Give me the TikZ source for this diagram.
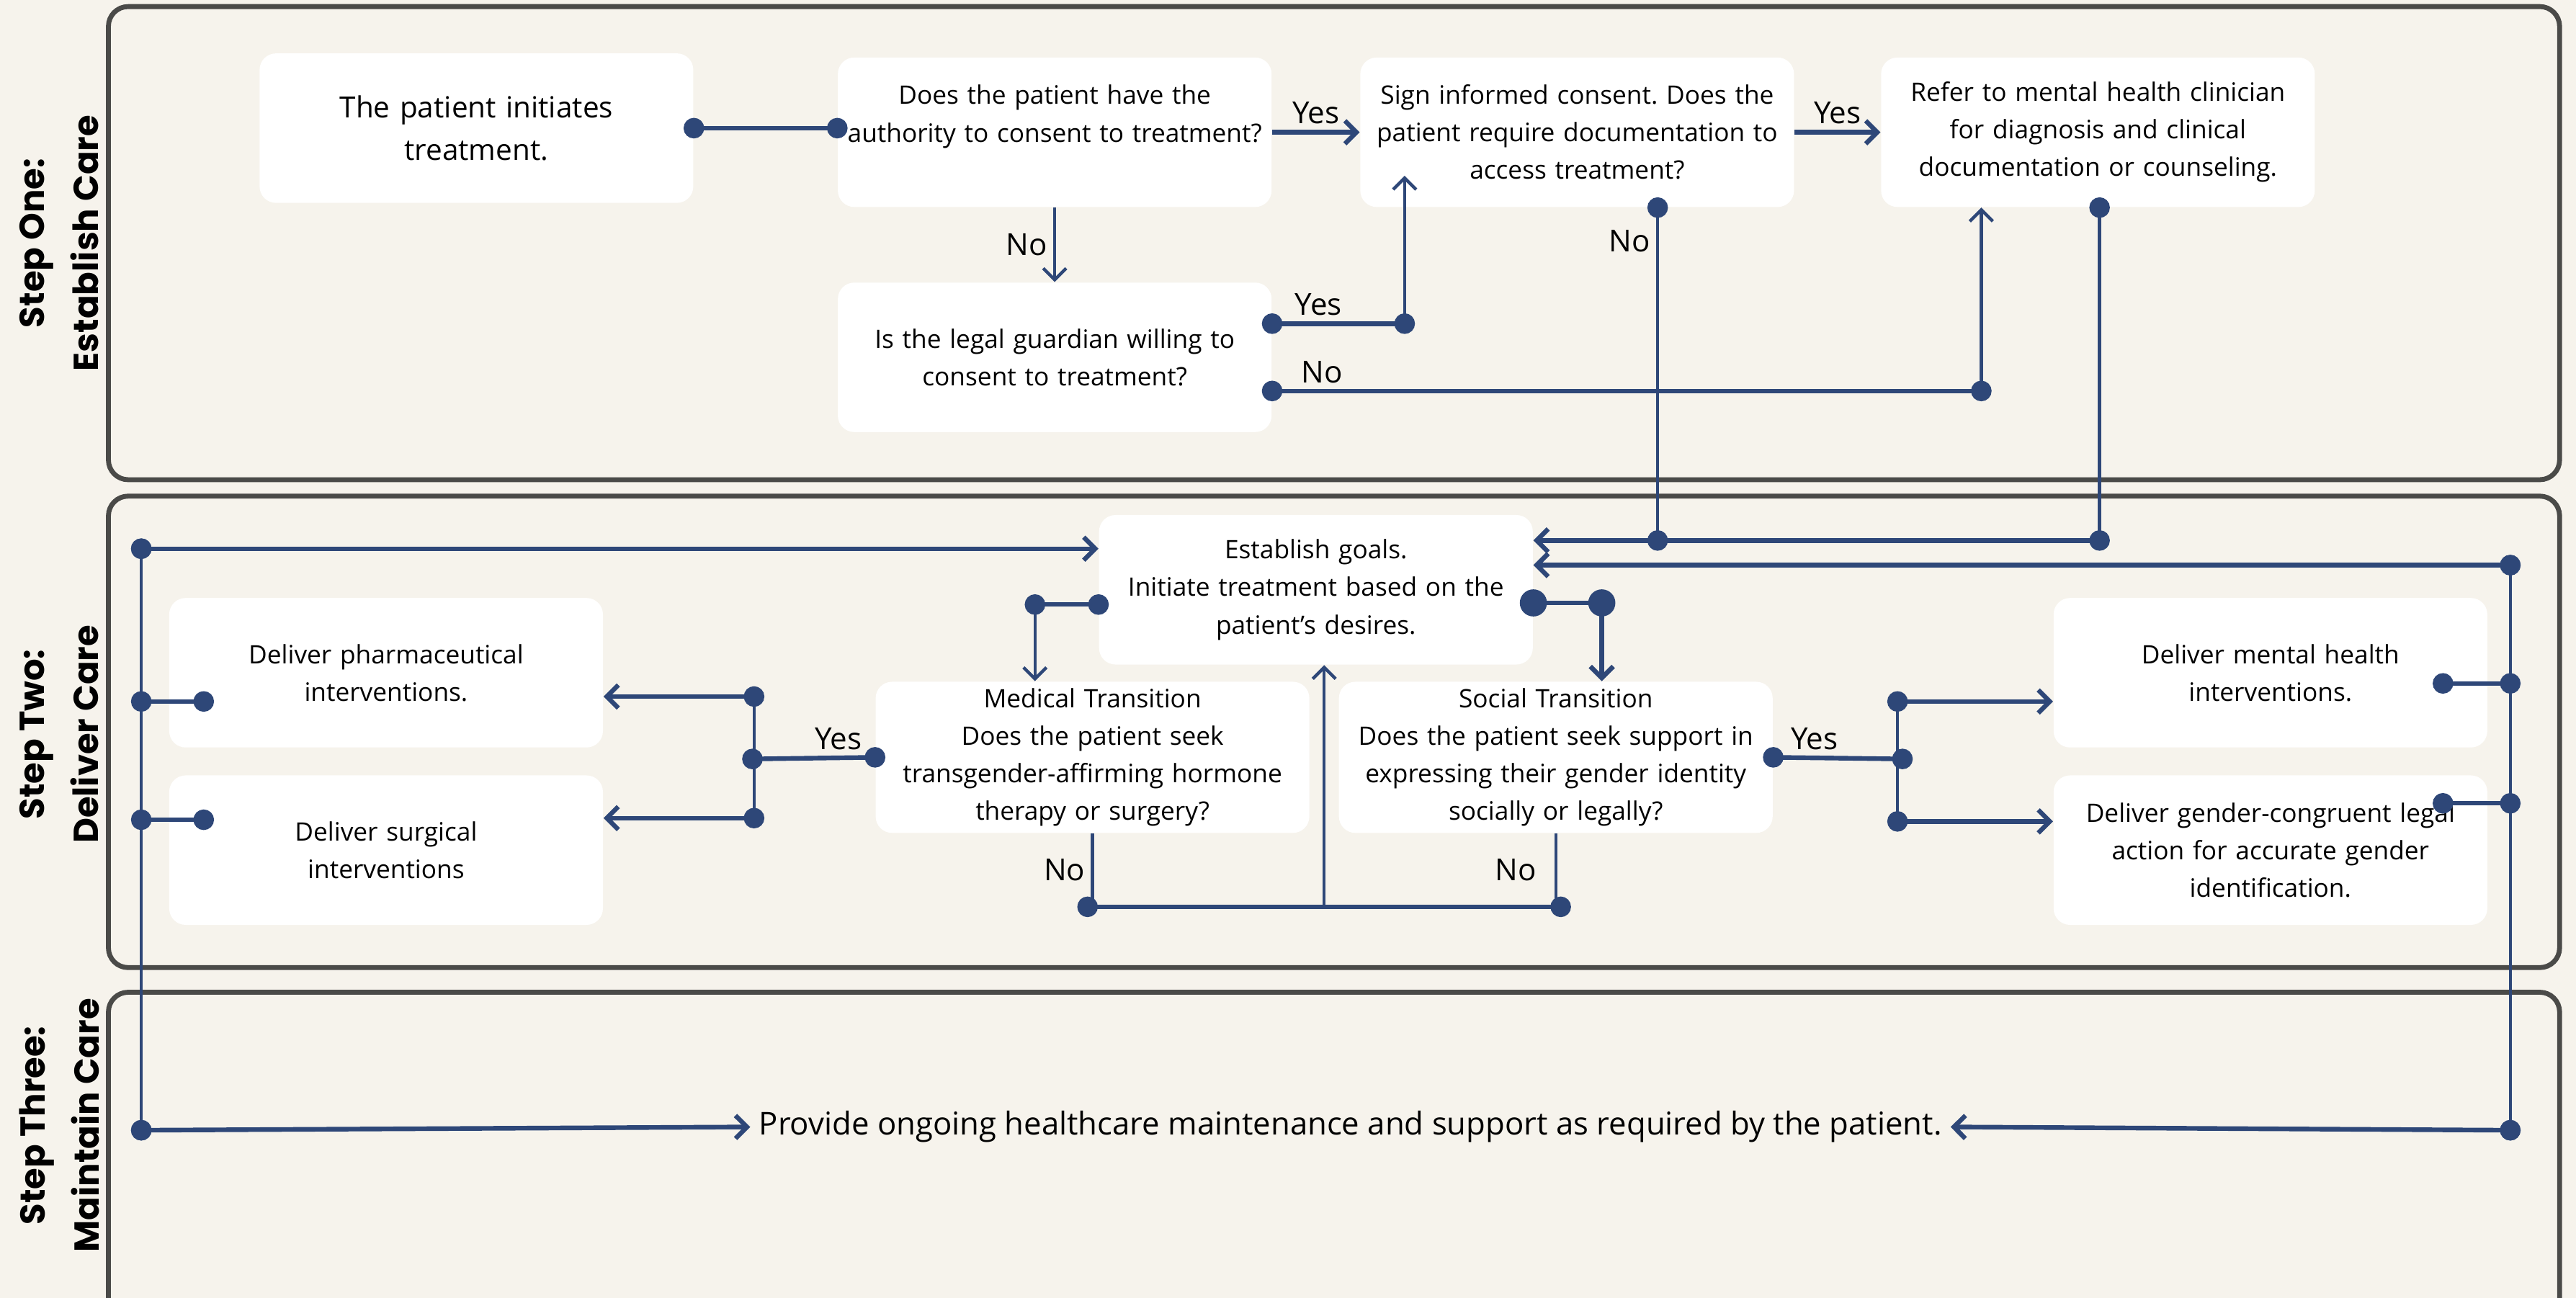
\documentclass[tikz,border=0pt]{standalone}
\usepackage{fontspec}
\setmainfont{Open Sans}
\newfontfamily\stepfont{Poppins}
\usetikzlibrary{arrows.meta}
\definecolor{navy}{HTML}{2E4778}
\definecolor{sfondo}{HTML}{F6F3EC}
\definecolor{bordo}{HTML}{4A4A48}
\frenchspacing

\begin{document}
\begin{tikzpicture}[x=0.2mm, y=-0.2mm,
    box/.style = {fill=white, rounded corners=2mm, minimum width=5.28cm, minimum height=1.82cm, text width=5.1cm, inner sep=0.8mm, align=center, font=\fontsize{8.8}{13}\selectfont},
    panel/.style = {draw=bordo, line width=1.7pt, rounded corners=2.4mm},
    steptitle/.style = {rotate=90, align=center, font=\stepfont\bfseries\fontsize{12}{18.7}\selectfont},
    lbl/.style = {font=\fontsize{10.5}{12}\selectfont, inner sep=2pt},
    link/.style = {draw=navy, line width=1.6pt},
    slim/.style = {draw=navy, line width=1.1pt},
    arr/.style = {-{Straight Barb[length=1.4mm, width=2.8mm]}},
    dd/.style = {{Circle[length=2.5mm]}-{Circle[length=2.5mm]}, shorten <=-1.25mm, shorten >=-1.25mm},
    da/.style = {{Circle[length=2.5mm]}-{Straight Barb[length=1.4mm, width=2.8mm]}, shorten <=-1.25mm},
    bigdd/.style = {{Circle[length=3.3mm]}-{Circle[length=3.3mm]}, shorten <=-1.65mm, shorten >=-1.65mm}]
    \useasboundingbox (0,0) rectangle (1568,790);
    \fill[sfondo] (0,0) rectangle (1568,790);

    % pannelli
    \draw[panel] (66,4) rectangle (1558,292);
    \draw[panel] (66,302) rectangle (1558,589);
    \draw[panel] (66,604) rectangle (1558,830);
    \node[steptitle] (t1) at (36,148) {Step One:\\Establish Care};
    \node[steptitle] (t2) at (36,447) {Step Two:\\Deliver Care};
    \node[steptitle] (t3) at (36,685) {Step Three:\\Maintain Care};

    % riquadri
    \node[box, font=\fontsize{10.1}{14.7}\selectfont] (0) at (290,78) {The patient initiates\\treatment.};
    \node[box] (1) at (642,80.5) {Does the patient have the\\authority to consent to treatment?\\\mbox{}};
    \node[box] (2) at (642,217.5) {Is the legal guardian willing to\\consent to treatment?};
    \node[box] (3) at (960,80.5) {Sign informed consent. Does the\\patient require documentation to\\access treatment?};
    \node[box] (4) at (1277,80.5) {Refer to mental health clinician\\for diagnosis and clinical\\documentation or counseling.};
    \node[box] (5) at (801,359) {Establish goals.\\Initiate treatment based on the\\patient's desires.};
    \node[box] (6) at (665,461) {Medical Transition\\Does the patient seek\\transgender-affirming hormone\\therapy or surgery?};
    \node[box] (7) at (947,461) {Social Transition\\Does the patient seek support in\\expressing their gender identity\\socially or legally?};
    \node[box] (8) at (235,409.5) {Deliver pharmaceutical\\interventions.};
    \node[box] (9) at (235,517.5) {Deliver surgical\\interventions};
    \node[box] (10) at (1382,409.5) {Deliver mental health\\interventions.};
    \node[box] (11) at (1382,517.5) {Deliver gender-congruent legal\\action for accurate gender\\identification.};
    \node[font=\fontsize{10.9}{13}\selectfont, inner sep=1mm] (12) at (822,686) {Provide ongoing healthcare maintenance and support as required by the patient.};

    % punti di snodo
    \coordinate (cy) at (855,197);
    \coordinate (dyes) at (855,107);
    \coordinate (cn) at (1206,238);
    \coordinate (dn) at (1009,329);
    \coordinate (en) at (1278,329);
    \coordinate (r1) at (1528,344);
    \coordinate (r2) at (1528,688);
    \coordinate (l1) at (86,334);
    \coordinate (l2) at (86,688);
    \coordinate (i1) at (124,427);
    \coordinate (j1) at (124,499);
    \coordinate (k1) at (1487,416);
    \coordinate (m1) at (1487,489);
    \coordinate (gy) at (458,462);
    \coordinate (gt) at (459,424);
    \coordinate (gb) at (459,498);
    \coordinate (hy) at (1158,462);
    \coordinate (ht) at (1155,427);
    \coordinate (hb) at (1155,500);
    \coordinate (fg) at (630,368);
    \coordinate (fh) at (975,367);
    \coordinate (gn) at (662,552);
    \coordinate (hn) at (950,552);
    \coordinate (fb) at (806,552);

    % collegamenti
    \draw[link, dd] (0.east) -- (0.east -| 1.west);
    \draw[link, arr] (1.east) -- (3.west) node[lbl, midway, above] {Yes};
    \draw[slim, arr] (1.south) -- (2.north) node[lbl, midway, left] {No};
    \draw[link, dd] (2.east |- cy) -- (cy) node[lbl, pos=0.35, above] {Yes};
    \draw[slim, arr] (cy) -- (dyes);
    \draw[link, dd] (2.east |- cn) -- (cn) node[lbl, pos=0.07, above] {No};
    \draw[slim, arr] (cn) -- (cn |- 4.south);
    \draw[link, arr] (3.east) -- (4.west) node[lbl, midway, above] {Yes};
    \draw[slim, dd] (dn |- 3.south) -- (dn) node[lbl, pos=0.1, left] {No};
    \draw[slim, dd] (en |- 4.south) -- (en);
    \draw[link, arr] (en) -- (5.east |- en);

    \draw[link, da] (r1) -- (5.east |- r1);
    \draw[slim, dd] (r1) -- (r2);
    \draw[link, da] (r2) -- (12.east);
    \draw[link, dd] (k1) -- (r1 |- k1);
    \draw[link, dd] (m1) -- (r1 |- m1);

    \draw[link, da] (l1) -- (5.west |- l1);
    \draw[slim, dd] (l1) -- (l2);
    \draw[link, da] (l2) -- (12.west);
    \draw[link, dd] (l1 |- i1) -- (i1);
    \draw[link, dd] (l1 |- j1) -- (j1);

    \draw[link, dd] (6.west) -- (gy) node[lbl, pos=0.3, above] {Yes};
    \draw[slim, dd] (gt) -- (gb);
    \draw[link, arr] (gt) -- (8.east |- gt);
    \draw[link, arr] (gb) -- (9.east |- gb);

    \draw[link, dd] (7.east) -- (hy) node[lbl, pos=0.32, above] {Yes};
    \draw[slim, dd] (ht) -- (hb);
    \draw[link, arr] (ht) -- (10.west |- ht);
    \draw[link, arr] (hb) -- (11.west |- hb);

    \draw[link, dd] (5.west |- fg) -- (fg);
    \draw[slim, arr] (fg) -- (fg |- 6.north);
    \draw[link, bigdd] (5.east |- fh) -- (fh);
    \draw[link, arr] (fh) -- (fh |- 7.north);

    \draw[slim] (6.south) -- (6.south |- gn) node[lbl, midway, left] {No};
    \draw[slim] (7.south) -- (7.south |- hn) node[lbl, midway, left, xshift=-1.5mm] {No};
    \draw[link, dd] (gn) -- (hn);
    \draw[slim, arr] (fb) -- (fb |- 5.south);
\end{tikzpicture}
\end{document}
